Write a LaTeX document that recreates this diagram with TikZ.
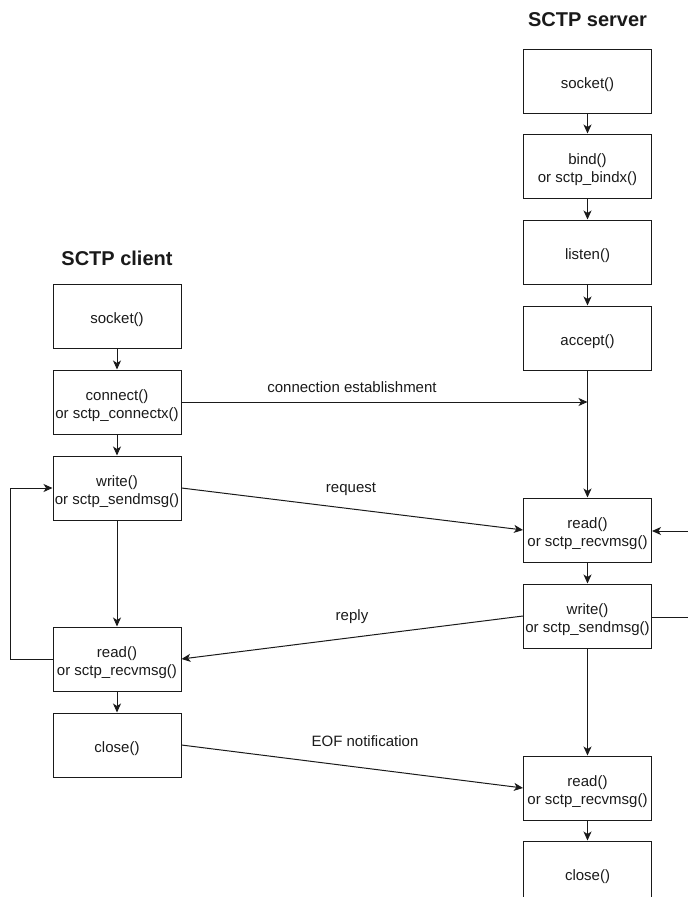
\documentclass[tikz,border=0pt]{standalone}
\usepackage{fontspec}
\setmainfont{Liberation Sans}
\usetikzlibrary{arrows.meta}
\definecolor{ink}{RGB}{26,26,26}
\begin{document}
\begin{tikzpicture}[x=1pt,y=-1pt,
  every node/.style={text=ink},
  boxtext/.style={align=center, inner sep=0pt, yshift=-3.5pt, font=\fontsize{15}{18}\selectfont},
  callbox/.style={draw=ink, line width=1pt, minimum width=128pt, minimum height=64pt,
    inner sep=0pt, label={[boxtext]center:#1}},
  title/.style={font=\fontsize{20}{24}\selectfont\bfseries},
  msg/.style={font=\fontsize{15}{18}\selectfont},
  flow/.style={draw=ink, line width=1pt, -{Stealth[length=9pt,width=8pt,inset=2.5pt]}},
  plain/.style={draw=ink, line width=1pt}]
\useasboundingbox (0,0) rectangle (688,897);

% client column
\node[title] (ctitle) at (117,258) {SCTP client};
\node[callbox={socket()}] (csock) at (117,316) {};
\node[callbox={connect()\\or sctp\_connectx()}] (cconn) at (117,402) {};
\node[callbox={write()\\or sctp\_sendmsg()}] (cwrite) at (117,488) {};
\node[callbox={read()\\or sctp\_recvmsg()}] (cread) at (117,659) {};
\node[callbox={close()}] (cclose) at (117,745) {};

% server column
\node[title] (stitle) at (587.5,20) {SCTP server};
\node[callbox={socket()}] (ssock) at (587.5,81) {};
\node[callbox={bind()\\or sctp\_bindx()}] (sbind) at (587.5,166) {};
\node[callbox={listen()}] (slisten) at (587.5,252) {};
\node[callbox={accept()}] (saccept) at (587.5,338) {};
\node[callbox={read()\\or sctp\_recvmsg()}] (sread) at (587.5,530) {};
\node[callbox={write()\\or sctp\_sendmsg()}] (swrite) at (587.5,616) {};
\node[callbox={read()\\or sctp\_recvmsg()}] (sread2) at (587.5,788) {};
\node[callbox={close()}] (sclose) at (587.5,873) {};

% client flow
\draw[flow] (csock) -- (cconn);
\draw[flow] (cconn) -- (cwrite);
\draw[flow] (cwrite) -- (cread);
\draw[flow] (cread) -- (cclose);
\coordinate (cloop) at (10,0);
\draw[flow] (cread.west) -- (cloop |- cread.west) -- (cloop |- cwrite.west) -- (cwrite.west);

% server flow
\draw[flow] (ssock) -- (sbind);
\draw[flow] (sbind) -- (slisten);
\draw[flow] (slisten) -- (saccept);
\draw[flow] (saccept) -- (sread);
\draw[flow] (sread) -- (swrite);
\draw[flow] (swrite) -- (sread2);
\draw[flow] (sread2) -- (sclose);
\coordinate (sedge1) at (688,531);
\coordinate (sedge2) at (688,617);
\draw[plain] (swrite.east |- sedge2) -- (sedge2);
\draw[flow] (sedge1) -- (sread.east |- sedge1);

% messages between the two sides
\coordinate (cjoin) at (saccept.south |- cconn.east);
\draw[flow] (cconn.east) -- (cjoin);
\node[msg] (lconn) at (352,387) {connection establishment};
\draw[flow] (cwrite.east) -- (sread.west);
\node[msg] (lreq) at (351,489) {request};
\draw[flow] (swrite.west) -- (cread.east);
\node[msg] (lrep) at (352,617) {reply};
\draw[flow] (cclose.east) -- (sread2.west);
\node[msg] (leof) at (365,741) {EOF notification};
\end{tikzpicture}
\end{document}
